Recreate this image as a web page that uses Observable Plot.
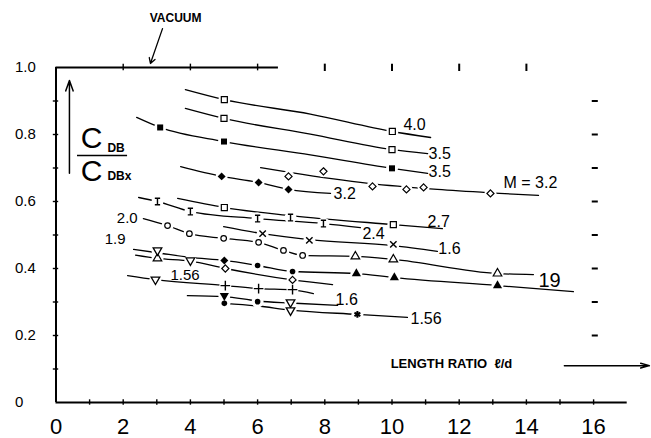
<!DOCTYPE html>
<html><head><meta charset="utf-8">
<script src="https://cdn.jsdelivr.net/npm/d3@7"></script>
<script src="https://cdn.jsdelivr.net/npm/@observablehq/plot@0.6"></script>
<style>body{margin:0;background:#fff} svg{display:block}</style>
</head><body><div id="chart"></div>
<script>
// ---- axes / ticks ----
const xTickLabels = [0, 2, 4, 6, 8, 10, 12, 14, 16];
const xMinorTicks = [1, 2, 3, 4, 5, 6, 7, 8, 9, 10, 11, 12, 13, 14, 15, 16];
const yTickLabels = [0, 0.2, 0.4, 0.6, 0.8, 1.0];
const yMinorTicks = [0.1, 0.2, 0.3, 0.4, 0.5, 0.6, 0.7, 0.8, 0.9];
const topTicks = [2, 4, 6];
const topLooseTicks = [8, 10, 12, 14];
const rightDashes = [0.9, 0.8, 0.7, 0.6, 0.5, 0.4, 0.3, 0.2];
const vacuumLineEnd = 6.62;

// ---- curves (l/d , C_DB/C_DBx) ----
const c40X = [3.85, 5.01, 7.57, 10.01, 11.15];
const c40Y = [0.934, 0.904, 0.861, 0.809, 0.791];
const c35aX = [3.85, 5.0, 7.57, 10.0, 11.06];
const c35aY = [0.878, 0.848, 0.801, 0.755, 0.743];
const c35bX = [2.40, 3.1, 5.0, 7.57, 10.0, 11.06];
const c35bY = [0.851, 0.821, 0.779, 0.739, 0.699, 0.684];
const c32X = [3.71, 4.93, 6.03, 6.92, 8.17];
const c32Y = [0.704, 0.675, 0.657, 0.636, 0.624];
const cM32X = [6.09, 7.0, 9.3, 11.35, 12.9, 14.36];
const cM32Y = [0.701, 0.686, 0.654, 0.636, 0.626, 0.618];
const c27X = [3.62, 5.01, 6.98, 10.04, 11.5];
const c27Y = [0.609, 0.582, 0.558, 0.531, 0.519];
const c24X = [2.46, 3.02, 4.0, 6.0, 7.96, 9.06];
const c24Y = [0.612, 0.600, 0.570, 0.549, 0.534, 0.522];
const c16X = [4.99, 6.15, 7.54, 10.04, 11.35];
const c16Y = [0.525, 0.504, 0.486, 0.468, 0.451];
const c20X = [2.60, 3.32, 3.97, 4.99, 6.03, 6.77, 7.34, 8.91, 10.04, 13.14, 14.21];
const c20Y = [0.549, 0.528, 0.504, 0.490, 0.478, 0.454, 0.439, 0.436, 0.427, 0.385, 0.382];
const c19aX = [2.31, 3.02, 4.0, 5.01, 6.0, 7.04, 8.94, 10.07, 13.14, 15.4];
const c19aY = [0.457, 0.447, 0.433, 0.424, 0.409, 0.391, 0.385, 0.373, 0.349, 0.331];
const c19bX = [2.37, 3.02, 4.0, 5.04, 7.04, 8.23];
const c19bY = [0.440, 0.430, 0.422, 0.400, 0.366, 0.352];
const c156aX = [2.13, 2.96, 5.04, 6.03, 7.04, 7.66];
const c156aY = [0.379, 0.367, 0.349, 0.340, 0.336, 0.325];
const c16bX = [3.91, 5.01, 6.0, 6.98, 8.38];
const c16bY = [0.319, 0.316, 0.303, 0.297, 0.290];
const c156bX = [5.01, 6.0, 6.98, 8.97, 10.46];
const c156bY = [0.296, 0.288, 0.276, 0.263, 0.254];

// ---- markers ----
const openSquareX = [5.01, 10.01, 5.0, 10.0, 5.01, 10.04];
const openSquareY = [0.904, 0.809, 0.848, 0.755, 0.582, 0.531];
const filledSquareX = [3.1, 5.0, 10.0];
const filledSquareY = [0.821, 0.779, 0.699];
const filledDiamondX = [4.93, 6.03, 6.92, 5.01];
const filledDiamondY = [0.675, 0.657, 0.636, 0.424];
const openDiamondX = [6.92, 7.96, 9.42, 10.43, 10.94, 12.93, 5.04, 7.04];
const openDiamondY = [0.675, 0.690, 0.645, 0.636, 0.642, 0.624, 0.400, 0.366];
const iBarX = [6.98, 3.02, 4.0, 6.0, 7.96];
const iBarY = [0.552, 0.600, 0.570, 0.549, 0.534];
const crossX = [6.15, 7.54, 10.04];
const crossY = [0.504, 0.484, 0.472];
const openCircleX = [3.32, 3.97, 4.99, 6.03, 6.77, 7.34];
const openCircleY = [0.528, 0.504, 0.490, 0.478, 0.454, 0.439];
const openTriangleX = [8.91, 10.04, 13.14, 3.02];
const openTriangleY = [0.436, 0.427, 0.385, 0.430];
const filledTriangleX = [8.94, 10.07, 13.14];
const filledTriangleY = [0.385, 0.373, 0.349];
const openTriDownX = [3.02, 4.0, 2.96, 6.98, 6.98];
const openTriDownY = [0.454, 0.424, 0.367, 0.299, 0.275];
const filledTriDownX = [5.01];
const filledTriDownY = [0.319];
const filledDotX = [6.0, 7.04, 6.0, 5.01];
const filledDotY = [0.409, 0.391, 0.301, 0.296];
const plusX = [5.04, 6.03, 7.04];
const plusY = [0.349, 0.340, 0.337];
const starX = [8.97];
const starY = [0.263];

// ---- curve labels ----
const rightLabelText = ["4.0", "3.5", "3.5", "3.2", "M = 3.2", "2.7", "2.4", "1.6", "1.6", "1.56"];
const rightLabelX = [10.34, 11.09, 11.09, 8.26, 13.32, 11.06, 9.12, 11.38, 8.32, 10.55];
const rightLabelY = [0.830, 0.743, 0.687, 0.624, 0.657, 0.540, 0.504, 0.460, 0.305, 0.251];
const leftLabelText = ["2.0", "1.9"];
const leftLabelX = [2.43, 2.07];
const leftLabelY = [0.549, 0.487];
const midLabelText = ["1.56"];
const midLabelX = [3.84];
const midLabelY = [0.381];
const bigLabelText = ["19"];
const bigLabelX = [14.36];
const bigLabelY = [0.364];

// ---- annotation texts ----
const vacuumText = "VACUUM";
const xTitle = "LENGTH RATIO  ℓ/d";

// ---- build ----
const FONT = "'Liberation Sans', Arial, sans-serif";
const rowsOf = (c, xs, ys) => xs.map((x, i) => ({c, x, y: ys[i]}));
const pts = (xs, ys) => xs.map((x, i) => ({x, y: ys[i]}));
const curves = [
  rowsOf("4.0", c40X, c40Y), rowsOf("3.5a", c35aX, c35aY), rowsOf("3.5b", c35bX, c35bY),
  rowsOf("3.2", c32X, c32Y), rowsOf("M3.2", cM32X, cM32Y), rowsOf("2.7", c27X, c27Y),
  rowsOf("2.4", c24X, c24Y), rowsOf("1.6", c16X, c16Y), rowsOf("2.0", c20X, c20Y),
  rowsOf("19a", c19aX, c19aY), rowsOf("19b", c19bX, c19bY), rowsOf("1.56a", c156aX, c156aY),
  rowsOf("1.6b", c16bX, c16bY), rowsOf("1.56b", c156bX, c156bY)
].flat();

const openSquare = pts(openSquareX, openSquareY);
const filledSquare = pts(filledSquareX, filledSquareY);
const filledDiamond = pts(filledDiamondX, filledDiamondY);
const openDiamond = pts(openDiamondX, openDiamondY);
const iBar = pts(iBarX, iBarY);
const cross = pts(crossX, crossY);
const openCircle = pts(openCircleX, openCircleY);
const openTriangle = pts(openTriangleX, openTriangleY);
const filledTriangle = pts(filledTriangleX, filledTriangleY);
const openTriDown = pts(openTriDownX, openTriDownY);
const filledTriDown = pts(filledTriDownX, filledTriDownY);
const filledDot = pts(filledDotX, filledDotY);
const plus = pts(plusX, plusY);
const star = pts(starX, starY);
const allMarkers = [openSquare, filledSquare, filledDiamond, openDiamond, iBar, cross, openCircle,
  openTriangle, filledTriangle, openTriDown, filledTriDown, filledDot, plus, star].flat();

const iBarSymbol = {
  draw(ctx, size) {
    const r = Math.sqrt(size / Math.PI), w = r * 0.8;
    ctx.moveTo(-w, -r); ctx.lineTo(w, -r);
    ctx.moveTo(0, -r); ctx.lineTo(0, r);
    ctx.moveTo(-w, r); ctx.lineTo(w, r);
  }
};

const labels = (t, xs, ys) => t.map((s, i) => ({s, x: xs[i], y: ys[i]}));
const fmtY = d => d === 0 ? "0" : d.toFixed(1);

const chart = Plot.plot({
  width: 651, height: 438,
  marginLeft: 55.5, marginRight: 24.3, marginTop: 67, marginBottom: 36,
  x: {domain: [0, 17], axis: null},
  y: {domain: [0, 1], axis: null},
  style: {background: "white", color: "black"},
  marks: [
    // axis frame
    Plot.ruleY([0], {x1: 0, x2: 17, strokeWidth: 2}),
    Plot.ruleX([0], {y1: 0, y2: 1, strokeWidth: 2}),
    Plot.ruleY([1], {x1: 0, x2: vacuumLineEnd, strokeWidth: 2}),
    Plot.ruleX(xMinorTicks, {y1: -0.008, y2: 0.008, strokeWidth: 1.4}),
    Plot.ruleY(yMinorTicks, {x1: -0.08, x2: 0.08, strokeWidth: 1.4}),
    Plot.ruleX(topTicks, {y1: 0.99, y2: 1.01, strokeWidth: 1.4}),
    Plot.ruleX(topLooseTicks, {y1: 0.988, y2: 1.01, strokeWidth: 2}),
    Plot.ruleY(rightDashes, {x1: 15.96, x2: 16.14, strokeWidth: 2}),
    Plot.text(yTickLabels, {x: 0, y: d => d, text: fmtY, dx: -41, textAnchor: "start", fontSize: 15, fontFamily: FONT}),
    Plot.text(xTickLabels, {x: d => d, y: 0, dy: 24, text: d => String(d), fontSize: 22, fontFamily: FONT}),
    // curves
    Plot.line(curves, {x: "x", y: "y", z: "c", curve: "monotone-x", stroke: "black", strokeWidth: 1.3}),
    // white gaps around markers
    Plot.dot(allMarkers, {x: "x", y: "y", r: 6, fill: "white"}),
    // markers
    Plot.dot(openSquare, {x: "x", y: "y", symbol: "square", r: 3.4, fill: "white", stroke: "black", strokeWidth: 1.2}),
    Plot.dot(filledSquare, {x: "x", y: "y", symbol: "square", r: 3.4, fill: "black"}),
    Plot.dot(filledDiamond, {x: "x", y: "y", symbol: "diamond2", r: 3.6, fill: "black"}),
    Plot.dot(openDiamond, {x: "x", y: "y", symbol: "diamond2", r: 3.2, fill: "white", stroke: "black", strokeWidth: 1.2}),
    Plot.dot(iBar, {x: "x", y: "y", symbol: iBarSymbol, r: 3.3, fill: "none", stroke: "black", strokeWidth: 1.4}),
    Plot.dot(cross, {x: "x", y: "y", symbol: "times", r: 3, stroke: "black", strokeWidth: 1.4}),
    Plot.dot(openCircle, {x: "x", y: "y", symbol: "circle", r: 2.8, fill: "white", stroke: "black", strokeWidth: 1.2}),
    Plot.dot(openTriangle, {x: "x", y: "y", symbol: "triangle", r: 3.2, fill: "white", stroke: "black", strokeWidth: 1.2}),
    Plot.dot(filledTriangle, {x: "x", y: "y", symbol: "triangle", r: 3.4, fill: "black"}),
    Plot.dot(openTriDown, {x: "x", y: "y", symbol: "triangle", rotate: 180, r: 3.2, fill: "white", stroke: "black", strokeWidth: 1.3}),
    Plot.dot(filledTriDown, {x: "x", y: "y", symbol: "triangle", rotate: 180, r: 3.4, fill: "black"}),
    Plot.dot(filledDot, {x: "x", y: "y", symbol: "circle", r: 2.8, fill: "black"}),
    Plot.dot(plus, {x: "x", y: "y", symbol: "plus", r: 3.2, stroke: "black", strokeWidth: 1.4}),
    Plot.dot(star, {x: "x", y: "y", symbol: "asterisk", r: 3.2, stroke: "black", strokeWidth: 2}),
    // curve labels
    Plot.text(labels(rightLabelText, rightLabelX, rightLabelY), {x: "x", y: "y", text: "s", textAnchor: "start", fontSize: 16, fontFamily: FONT}),
    Plot.text(labels(leftLabelText, leftLabelX, leftLabelY), {x: "x", y: "y", text: "s", textAnchor: "end", fontSize: 15, fontFamily: FONT}),
    Plot.text(labels(midLabelText, midLabelX, midLabelY), {x: "x", y: "y", text: "s", fontSize: 15, fontFamily: FONT}),
    Plot.text(labels(bigLabelText, bigLabelX, bigLabelY), {x: "x", y: "y", text: "s", textAnchor: "start", fontSize: 20, fontFamily: FONT}),
    // y title: C_DB / C_DBx with upward arrow
    Plot.arrow([{x1: 0.40, y1: 0.684, x2: 0.40, y2: 0.961}], {x1: "x1", y1: "y1", x2: "x2", y2: "y2", headLength: 11, headAngle: 40, strokeWidth: 1.5}),
    Plot.ruleY([0.737], {x1: 0.64, x2: 2.13, strokeWidth: 1.5}),
    Plot.text(["C", "C"], {x: [1.06, 1.06], y: [0.787, 0.689], text: d => d, fontSize: 30, fontFamily: FONT}),
    Plot.text(["DB", "DBx"], {x: [1.53, 1.53], y: [0.758, 0.675], text: d => d, textAnchor: "start", fontSize: 12, fontWeight: "bold", fontFamily: FONT}),
    // vacuum annotation
    Plot.text([vacuumText], {x: 3.56, y: 1.146, text: d => d, fontSize: 12, fontWeight: "bold", fontFamily: FONT}),
    Plot.arrow([{x1: 3.17, y1: 1.116, x2: 2.81, y2: 1.012}], {x1: "x1", y1: "y1", x2: "x2", y2: "y2", headLength: 7, strokeWidth: 1.3}),
    // x title with arrow
    Plot.text([xTitle], {x: 9.96, y: 0.115, text: d => d, textAnchor: "start", fontSize: 13, fontWeight: "bold", fontFamily: FONT}),
    Plot.arrow([{x1: 15.13, y1: 0.11, x2: 17.66, y2: 0.11}], {x1: "x1", y1: "y1", x2: "x2", y2: "y2", headLength: 9, headAngle: 30, strokeWidth: 1.5})
  ]
});
document.getElementById("chart").appendChild(chart);
</script>
</body></html>
